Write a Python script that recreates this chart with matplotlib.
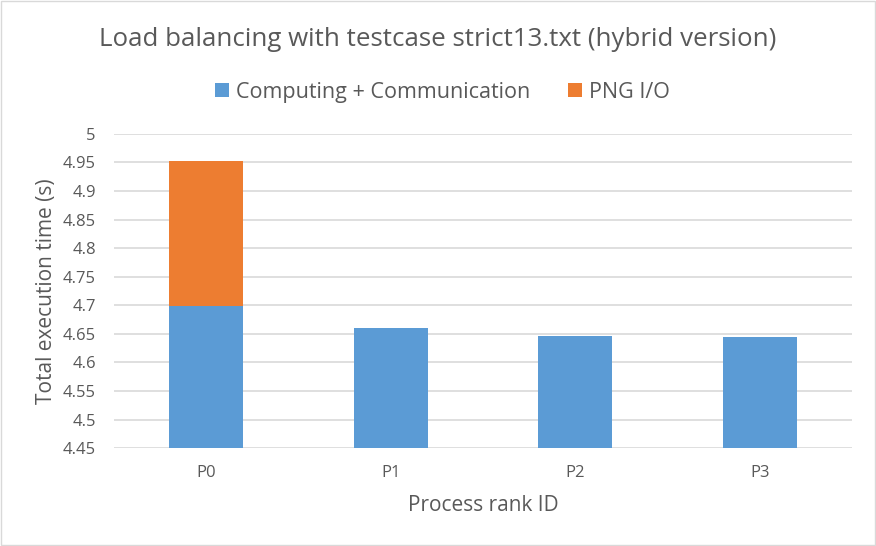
import matplotlib
matplotlib.use("Agg")
from matplotlib import pyplot as plt
from matplotlib.patches import Rectangle

ranks = ["P0", "P1", "P2", "P3"]
computing = [4.699, 4.660, 4.646, 4.644]
png_io = [0.253, 0.0, 0.0, 0.0]
y_ticks = [4.45, 4.5, 4.55, 4.6, 4.65, 4.7, 4.75, 4.8, 4.85, 4.9, 4.95, 5]
y_labels = ["4.45", "4.5", "4.55", "4.6", "4.65", "4.7", "4.75", "4.8", "4.85", "4.9", "4.95", "5"]

plt.rcParams['font.family'] = ['Open Sans', 'DejaVu Sans']
text_color = "#595959"

fig = plt.figure(figsize=(8.76, 5.46), dpi=100)
ax = fig.add_axes([0.130, 0.179, 0.843, 0.576])

base = y_ticks[0]
x = list(range(len(ranks)))
comp_h = [v - base for v in computing]
ax.bar(x, comp_h, width=0.4, bottom=base, color="#5b9bd5",
       label="Computing + Communication", zorder=3)
ax.bar(x, png_io, width=0.4, bottom=computing, color="#ed7d31",
       label="PNG I/O", zorder=3)

ax.set_xlim(-0.5, 3.5)
ax.set_ylim(4.45, 5.0)
ax.set_yticks(y_ticks)
ax.set_yticklabels(y_labels)
ax.set_xticks(x)
ax.set_xticklabels(ranks)
ax.tick_params(axis="x", length=0, labelsize=12, colors=text_color, pad=12)
ax.tick_params(axis="y", length=0, labelsize=12, colors=text_color, pad=13)
ax.grid(axis="y", color="#d9d9d9", linewidth=1.2, zorder=0)
for s in ax.spines.values():
    s.set_visible(False)

ax.set_xlabel("Process rank ID", fontsize=15, color=text_color, labelpad=10)
ax.set_ylabel("Total execution time (s)", fontsize=15, color=text_color, labelpad=4)

fig.text(0.5, 0.928, "Load balancing with testcase strict13.txt (hybrid version)",
         ha="center", va="center", fontsize=18.6, color=text_color)
fig.legend(loc="center", bbox_to_anchor=(0.505, 0.831), ncol=2, frameon=False,
           fontsize=15.5, labelcolor=text_color, handlelength=0.65, handleheight=0.65,
           columnspacing=1.75, handletextpad=0.33)

fig.patches.append(Rectangle((0.001, 0.001), 0.998, 0.998, transform=fig.transFigure,
                             fill=False, edgecolor="#d9d9d9", linewidth=1.0))

plt.savefig("out.png", dpi=100)
